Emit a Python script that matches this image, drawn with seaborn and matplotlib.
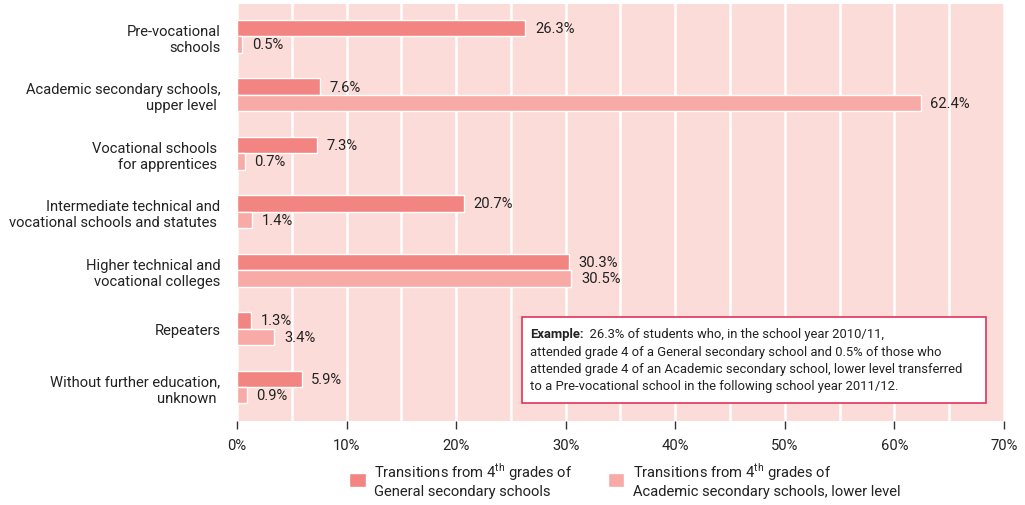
import pandas as pd
import seaborn as sns
import matplotlib.pyplot as plt
from matplotlib.patches import Patch, Rectangle
from matplotlib.ticker import MultipleLocator

categories = [
    "Pre-vocational\nschools",
    "Academic secondary schools,\nupper level ",
    "Vocational schools \nfor apprentices ",
    "Intermediate technical and\nvocational schools and statutes ",
    "Higher technical and\nvocational colleges",
    "Repeaters",
    "Without further education,\nunknown ",
]
general = [26.3, 7.6, 7.3, 20.7, 30.3, 1.3, 5.9]
academic = [0.5, 62.4, 0.7, 1.4, 30.5, 3.4, 0.9]
series = ["General", "Academic"]
legend_labels = [
    "Transitions from 4$^{\\mathrm{th}}$ grades of\nGeneral secondary schools",
    "Transitions from 4$^{\\mathrm{th}}$ grades of\nAcademic secondary schools, lower level",
]
xticks = [0, 10, 20, 30, 40, 50, 60, 70]

df = pd.DataFrame({
    "category": categories * 2,
    "value": general + academic,
    "series": [series[0]] * len(categories) + [series[1]] * len(categories),
})

sns.set_style("white")
plt.rcParams["font.family"] = ["Roboto", "DejaVu Sans"]
plt.rcParams["mathtext.fontset"] = "custom"
plt.rcParams["mathtext.rm"] = "Roboto"

dark = "#F28482"
light = "#F7AAA6"
bg = "#FBDCD8"
txt = "#222222"
fs = 10.6

fig = plt.figure(figsize=(10.25, 5.06), dpi=100)
ax = fig.add_axes([0.2312, 0.166, 0.7483, 0.824])
ax.set_facecolor(bg)

sns.barplot(data=df, x="value", y="category", hue="series", orient="h",
            palette=[dark, light], width=0.56, dodge=True, legend=False,
            saturation=1, ax=ax, zorder=3)

ax.set_xlim(0, 70)
ax.set_ylim(6.58, -0.55)
ax.xaxis.set_minor_locator(MultipleLocator(5))
ax.set_xticks(xticks)
ax.set_xticklabels([f"{t}%" for t in xticks], fontsize=fs, color=txt)
ax.grid(axis="x", which="both", color="white", linewidth=1.8, zorder=1)
ax.set_axisbelow(True)
ax.tick_params(axis="x", which="major", direction="out", length=6, width=1,
               color="#333333", bottom=True, pad=6)
ax.tick_params(axis="x", which="minor", length=0)
ax.tick_params(axis="y", length=0, pad=12)
for lbl in ax.get_yticklabels():
    lbl.set_fontsize(fs)
    lbl.set_color(txt)
    lbl.set_horizontalalignment("right")
for s in ax.spines.values():
    s.set_visible(False)
ax.set_xlabel("")
ax.set_ylabel("")

for cont in ax.containers:
    ax.bar_label(cont, labels=[f"{v:.1f}%" for v in cont.datavalues],
                 padding=7, fontsize=fs, color=txt)

# example box
ax.add_patch(Rectangle((0.3716, 0.0432), 0.6049, 0.2062, transform=ax.transAxes,
                       facecolor="white", edgecolor="#E0335A", linewidth=1.2, zorder=5))
bfs = 9.4
head = ax.text(0.382, 0.226, "Example:", transform=ax.transAxes, fontsize=bfs,
               color=txt, va="top", ha="left", weight="bold", zorder=6)
ax.annotate("  26.3% of students who, in the school year 2010/11,", xy=(1, 0),
            xycoords=head, va="bottom", ha="left", fontsize=bfs, color=txt, zorder=6)
body = ("attended grade 4 of a General secondary school and 0.5% of those who\n"
        "attended grade 4 of an Academic secondary school, lower level transferred\n"
        "to a Pre-vocational school in the following school year 2011/12.")
ax.text(0.382, 0.182, body, transform=ax.transAxes, fontsize=bfs, color=txt,
        va="top", ha="left", linespacing=1.4, zorder=6)

handles = [Patch(facecolor=dark), Patch(facecolor=light)]
fig.legend(handles, legend_labels, loc="upper left", bbox_to_anchor=(0.328, 0.114),
           ncol=2, frameon=False, fontsize=fs, handlelength=1.1, handleheight=1.1,
           columnspacing=2.4, handletextpad=0.6, labelcolor=txt, labelspacing=0.3)

fig.savefig("out.png", dpi=100)
